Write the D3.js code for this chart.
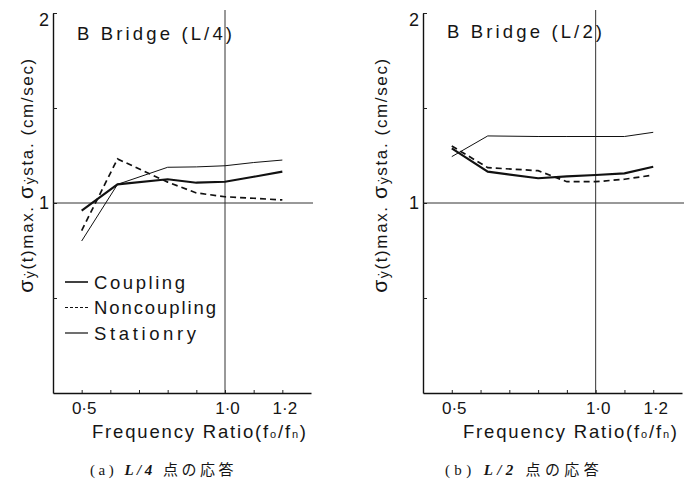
<!DOCTYPE html>
<html>
<head>
<meta charset="utf-8">
<script src="https://cdn.jsdelivr.net/npm/d3@7"></script>
<style>
body { margin: 0; background: #fff; }
svg { display: block; }
text { fill: #151515; }
</style>
</head>
<body>
<svg id="chart" width="691" height="481"></svg>
<script>
// frequency ratio f0/fn at which the curves were read
const ratios = [0.5, 0.625, 0.8, 0.9, 1.0, 1.1, 1.2];

// (a) L/4 point
const quarterCoupling = [0.96, 1.098, 1.125, 1.107, 1.112, 1.138, 1.165];
const quarterNoncoupling = [0.855, 1.232, 1.11, 1.053, 1.033, 1.025, 1.016];
const quarterStationary = [0.80, 1.098, 1.188, 1.19, 1.196, 1.213, 1.226];

// (b) L/2 point
const halfCoupling = [1.288, 1.165, 1.13, 1.14, 1.147, 1.156, 1.191];
const halfNoncoupling = [1.30, 1.186, 1.17, 1.112, 1.112, 1.125, 1.147];
const halfStationary = [1.244, 1.353, 1.35, 1.35, 1.35, 1.35, 1.372];

const xTicks = [0.5, 0.6, 0.7, 0.8, 0.9, 1.0, 1.1, 1.2];
const xTickLabels = new Map([[0.5, "0·5"], [1.0, "1·0"], [1.2, "1·2"]]);
const yTicks = [0.5, 1, 1.5, 2];
const yTickLabels = new Map([[1, "1"], [2, "2"]]);
const seriesNames = ["Coupling", "Noncoupling", "Stationry"];

const svg = d3.select("#chart");
const sans = "'Liberation Sans', Arial, sans-serif";

const lineStyles = {
	Coupling: { width: 2.1, dash: null },
	Noncoupling: { width: 1.7, dash: "6,4" },
	Stationry: { width: 1, dash: null },
};

// spread the letters so the text fills the given width
const fit = (sel, width) => {
	const n = sel.text().length;
	const w = sel.node().getComputedTextLength();
	sel.attr("letter-spacing", (width - w) / Math.max(n - 1, 1));
	return sel;
};

const drawPanel = (p) => {
	const x = d3.scaleLinear().domain([0.4, 1.3]).range([p.left, p.left + p.width]);
	const y = d3.scaleLinear().domain([0, 2]).range([393, 13]);
	const g = svg.append("g");

	// reference lines at ratio 1.0 and response 1
	g.append("line")
		.attr("x1", x(1)).attr("x2", x(1))
		.attr("y1", y(2) - 3).attr("y2", y(0))
		.attr("stroke", "#333").attr("stroke-width", 1);
	g.append("line")
		.attr("x1", x(0.4)).attr("x2", x(1.3) + 2)
		.attr("y1", y(1)).attr("y2", y(1))
		.attr("stroke", "#333").attr("stroke-width", 1);

	const xAxis = g.append("g")
		.attr("transform", `translate(0,${y(0)})`)
		.call(d3.axisBottom(x).tickValues(xTicks).tickSizeInner(-3).tickSizeOuter(0)
			.tickPadding(9).tickFormat((d) => xTickLabels.get(d) || ""));
	xAxis.select(".domain").attr("stroke", "#111").attr("stroke-width", 1.6);
	xAxis.selectAll(".tick line").attr("stroke", "#222");
	xAxis.selectAll(".tick text")
		.attr("font-family", sans).attr("font-size", 17).attr("fill", "#151515")
		.attr("dx", 2);

	const yAxis = g.append("g")
		.attr("transform", `translate(${p.left},0)`)
		.call(d3.axisLeft(y).tickValues(yTicks).tickSizeInner(-4).tickSizeOuter(0)
			.tickPadding(4).tickFormat((d) => yTickLabels.get(d) || ""));
	yAxis.select(".domain").attr("stroke", "#111").attr("stroke-width", 1.4);
	yAxis.selectAll(".tick line").attr("stroke", "#222");
	yAxis.selectAll(".tick text")
		.attr("font-family", sans).attr("font-size", 18).attr("fill", "#151515")
		.attr("y", (d) => (d === 2 ? 7 : 0));

	const line = d3.line().x((d) => x(d[0])).y((d) => y(d[1]));
	p.series.forEach((values, i) => {
		const st = lineStyles[seriesNames[i]];
		g.append("path")
			.datum(d3.zip(ratios, values))
			.attr("d", line)
			.attr("fill", "none")
			.attr("stroke", "#111")
			.attr("stroke-width", st.width)
			.attr("stroke-dasharray", st.dash);
	});

	fit(g.append("text")
		.attr("x", p.titleX).attr("y", p.titleY)
		.attr("font-family", sans).attr("font-size", 18.5)
		.text(p.title), 155);

	const yl = g.append("text")
		.attr("transform", `translate(${p.labelX},175) rotate(-90)`)
		.attr("text-anchor", "middle")
		.attr("font-family", sans).attr("font-size", 17);
	yl.append("tspan").attr("font-size", 21).text("σ");
	yl.append("tspan").attr("font-size", 14).attr("dy", 2).text("ẏ");
	yl.append("tspan").attr("dy", -2).text("(t)max. ");
	yl.append("tspan").attr("font-size", 21).text("σ");
	yl.append("tspan").attr("font-size", 14).attr("dy", 2).text("ẏ");
	yl.append("tspan").attr("dy", -2).text("sta. (cm/sec)");
	fit(yl, 234);

	const xt = g.append("text")
		.attr("x", p.xTitleX).attr("y", 438)
		.attr("font-family", sans).attr("font-size", 18.5);
	xt.append("tspan").text("Frequency Ratio(f");
	xt.append("tspan").attr("font-size", 11).text("o");
	xt.append("tspan").text("/f");
	xt.append("tspan").attr("font-size", 11).text("n");
	xt.append("tspan").text(")");
	fit(xt, 214);

	const cap = g.append("text")
		.attr("x", p.capX).attr("y", 475)
		.attr("font-size", 15);
	cap.append("tspan").attr("font-family", "'Liberation Serif', serif").text(p.capTag + "  ");
	cap.append("tspan").attr("font-family", "'Liberation Serif', serif")
		.attr("font-style", "italic").attr("font-weight", "bold").text(p.capPoint + " ");
	cap.append("tspan").attr("font-family", "'Noto Sans CJK JP', sans-serif")
		.attr("font-size", 15).text("点の応答");
	fit(cap, p.capW);

	return { g, x, y };
};

drawPanel({
	left: 53, width: 258,
	series: [quarterCoupling, quarterNoncoupling, quarterStationary],
	title: "B Bridge (L/4)", titleX: 77, titleY: 40,
	labelX: 33, xTitleX: 92,
	capTag: "(a)", capPoint: "L/4", capX: 90, capW: 147,
});

drawPanel({
	left: 423, width: 259,
	series: [halfCoupling, halfNoncoupling, halfStationary],
	title: "B Bridge (L/2)", titleX: 447, titleY: 38,
	labelX: 387, xTitleX: 463,
	capTag: "(b)", capPoint: "L/2", capX: 445, capW: 158,
});

// legend in the left panel
const legend = svg.append("g");
const legendTargets = [91, 122, 102];
seriesNames.forEach((name, i) => {
	const ly = 282 + i * 25.5;
	legend.append("line")
		.attr("x1", 65).attr("x2", 88)
		.attr("y1", ly).attr("y2", ly)
		.attr("stroke", "#111")
		.attr("stroke-width", i === 0 ? 1.6 : 1.2)
		.attr("stroke-dasharray", i === 1 ? "3,2" : null);
	fit(legend.append("text")
		.attr("x", 94).attr("y", ly + 6.5)
		.attr("font-family", sans).attr("font-size", 18.5)
		.text(name), legendTargets[i]);
});
</script>
</body>
</html>
